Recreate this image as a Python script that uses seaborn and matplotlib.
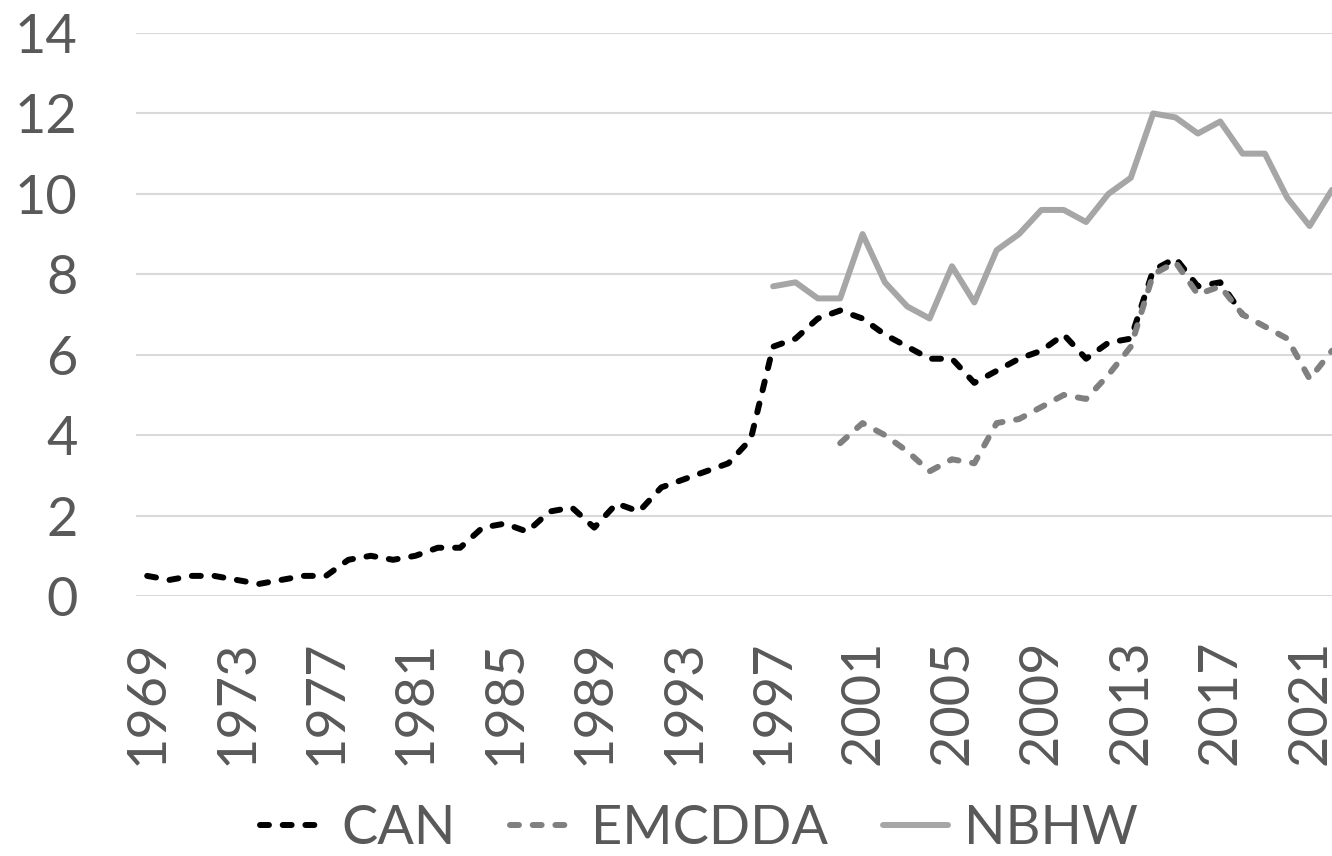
import numpy as np
import pandas as pd
import matplotlib
matplotlib.use("Agg")
import matplotlib.pyplot as plt
import seaborn as sns

# values
can_years = list(range(1969, 2019))
can_values = [0.5, 0.4, 0.5, 0.5, 0.4, 0.3, 0.4, 0.5, 0.5, 0.9,
              1.0, 0.9, 1.0, 1.2, 1.2, 1.7, 1.8, 1.6, 2.1, 2.2,
              1.7, 2.3, 2.1, 2.7, 2.9, 3.1, 3.3, 3.9, 6.2, 6.4,
              6.9, 7.1, 6.9, 6.5, 6.2, 5.9, 5.9, 5.3, 5.6, 5.9,
              6.1, 6.5, 5.9, 6.3, 6.4, 8.1, 8.4, 7.7, 7.8, 7.0]

emcdda_years = list(range(2000, 2023))
emcdda_values = [3.8, 4.3, 4.0, 3.6, 3.1, 3.4, 3.3, 4.3, 4.4, 4.7,
                 5.0, 4.9, 5.5, 6.2, 8.0, 8.3, 7.5, 7.7, 7.0, 6.7,
                 6.4, 5.4, 6.1]

nbhw_years = list(range(1997, 2023))
nbhw_values = [7.7, 7.8, 7.4, 7.4, 9.0, 7.8, 7.2, 6.9, 8.2, 7.3,
               8.6, 9.0, 9.6, 9.6, 9.3, 10.0, 10.4, 12.0, 11.9, 11.5,
               11.8, 11.0, 11.0, 9.9, 9.2, 10.1]

tick_years = list(range(1969, 2022, 4))
y_ticks = [0, 2, 4, 6, 8, 10, 12, 14]

sns.set_theme(style="white")
plt.rcParams['font.family'] = ['Lato', 'DejaVu Sans']
text_color = "#595959"

fig = plt.figure(figsize=(13.32, 8.56), dpi=100)
ax = fig.add_axes([136 / 1332, 1 - 596 / 856, 1 - 136 / 1332, (596 - 33) / 856])

for y in y_ticks:
    ax.axhline(y, color="#d9d9d9", lw=1.5, zorder=0)

sns.lineplot(x=can_years, y=can_values, ax=ax, color="black", label="CAN")
sns.lineplot(x=emcdda_years, y=emcdda_values, ax=ax, color="#808080", label="EMCDDA")
sns.lineplot(x=nbhw_years, y=nbhw_values, ax=ax, color="#a6a6a6", label="NBHW")

lw = 4.3
lines = ax.get_lines()[len(y_ticks):]
for ln in lines:
    ln.set_linewidth(lw)
    ln.set_solid_capstyle("round")
    ln.set_solid_joinstyle("round")
    ln.set_dash_joinstyle("round")
for ln in lines[:2]:
    ln.set_dashes([1.5, 2.3])
    ln.set_dash_capstyle("round")

ax.set_xlim(1968.5, 2022.0)
ax.set_ylim(0, 14)
ax.set_xticks(tick_years)
ax.set_xticklabels([str(y) for y in tick_years], rotation=90)
ax.set_yticks(y_ticks)
ax.set_yticklabels([str(y) for y in y_ticks])
ax.tick_params(axis="both", length=0, labelsize=39, colors=text_color)
ax.tick_params(axis="y", pad=42)
ax.tick_params(axis="x", pad=31)
for s in ax.spines.values():
    s.set_visible(False)
ax.set_xlabel("")
ax.set_ylabel("")
ax.patch.set_alpha(0)

ax.get_legend().remove()
leg = fig.legend(lines, ["CAN", "EMCDDA", "NBHW"], loc="center",
                 bbox_to_anchor=(699 / 1332, 1 - 828 / 856),
                 ncol=3, frameon=False, fontsize=39, handlelength=1.2,
                 handletextpad=0.3, columnspacing=1.0, labelcolor=text_color)

fig.savefig("out.png", dpi=100)
